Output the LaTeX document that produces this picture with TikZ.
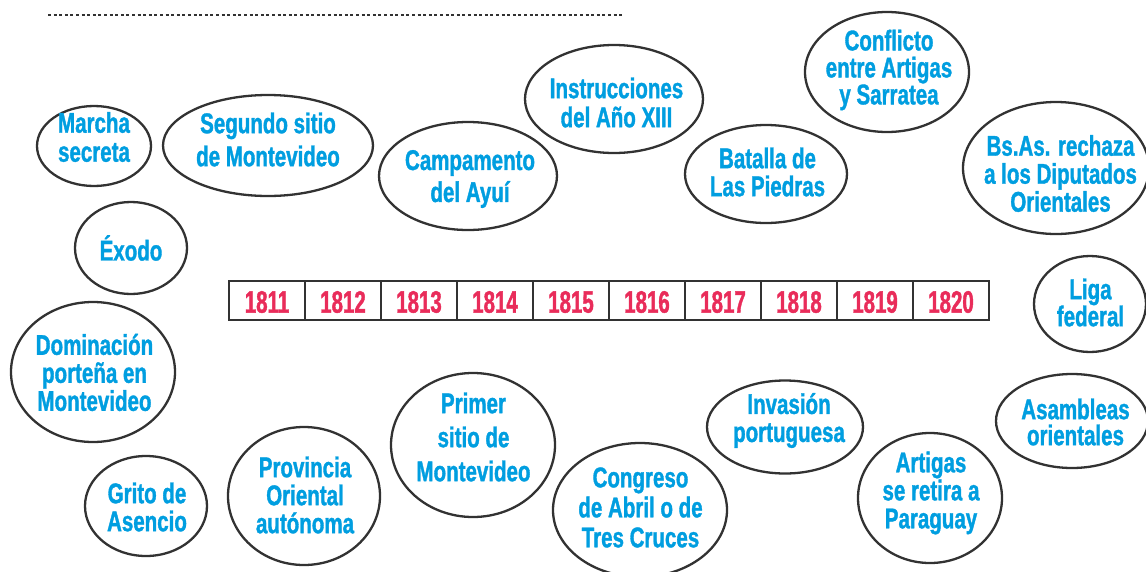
\documentclass[tikz,border=0pt]{standalone}
\usepackage{fontspec}
\usetikzlibrary{shapes.geometric}
\newfontfamily\cond{Liberation Sans}[FakeStretch=0.72,FakeBold=1.2]
\newfontfamily\condyr{Liberation Sans}[FakeStretch=0.66,FakeBold=1.2]
\definecolor{tblue}{RGB}{0,158,224}
\definecolor{tred}{RGB}{233,44,90}
\definecolor{outline}{RGB}{50,50,50}
\begin{document}
\begin{tikzpicture}[x=1pt,y=-1pt,
  ev/.style 2 args={ellipse,draw=outline,line width=2.3pt,minimum width=#1,minimum height=#2,inner sep=0pt},
  lbl/.style={text=tblue,align=center,inner sep=0pt,font=\cond\bfseries\fontsize{28.5}{28}\selectfont},
  lblw/.style={text=tblue,align=center,inner sep=0pt,font=\cond\bfseries\fontsize{28.5}{#1}\selectfont},
  yearcell/.style={draw=outline,line width=2pt,minimum width=76,minimum height=39,inner sep=0pt,outer sep=0pt},
  yeartext/.style={text=tred,inner sep=0pt,font=\condyr\bfseries\fontsize{31}{31}\selectfont},
  dashline/.style={draw=outline,line width=1.6pt,dash pattern=on 3pt off 2.6pt}]
\useasboundingbox (0,0) rectangle (1146,571);
\fill[white] (0,0) rectangle (1146,571);
% dashed rule
\coordinate (d1) at (48,15);
\coordinate (d2) at (622,15);
\draw[dashline] (d1) -- (d2);
% timeline
\foreach \y [count=\i from 0] in {1811,1812,1813,1814,1815,1816,1817,1818,1819,1820}{
  \node[yearcell] (y\y) at ({229+76*(\i+0.5)},300.5) {};
  \node[yeartext] (l\y) at ({229+76*(\i+0.5)},302) {\y};
}
% ellipses
\node[ev={114}{80}]  (e1)  at (94,146) {};
\node[ev={210}{101}] (e2)  at (268,145.5) {};
\node[ev={112}{92}]  (e3)  at (131,248) {};
\node[ev={164}{140}] (e4)  at (93,372) {};
\node[ev={122}{100}] (e5)  at (146,506) {};
\node[ev={152}{138}] (e6)  at (304,496) {};
\node[ev={164}{144}] (e7)  at (473,445) {};
\node[ev={174}{134}] (e8)  at (640,510) {};
\node[ev={156}{93}]  (e9)  at (785,427) {};
\node[ev={144}{130}] (e10) at (930,498) {};
\node[ev={152}{94}]  (e11) at (1072,421) {};
\node[ev={112}{96}]  (e12) at (1090,304) {};
\node[ev={186}{132}] (e13) at (1056,168) {};
\node[ev={164}{120}] (e14) at (887,72) {};
\node[ev={162}{98}]  (e15) at (766,174) {};
\node[ev={178}{108}] (e16) at (614,99) {};
\node[ev={178}{108}] (e17) at (468,176) {};
% labels
\node[lblw=29] (t1) at (94,137) {Marcha\\secreta};
\node[lblw=33] (t2) at (268,139.5) {Segundo sitio\\de Montevideo};
\node[lbl] (t3) at (131,248) {Éxodo};
\node[lbl] (t4) at (94.5,372.5) {Dominación\\porteña en\\Montevideo};
\node[lbl] (t5) at (147,507) {Grito de\\Asencio};
\node[lbl] (t6) at (305,495) {Provincia\\Oriental\\autónoma};
\node[lblw=34] (t7) at (473.5,437) {Primer\\sitio de\\Montevideo};
\node[lblw=30] (t8) at (640.5,507.5) {Congreso\\de Abril o de\\Tres Cruces};
\node[lbl] (t9) at (789,420.5) {Invasión\\portuguesa};
\node[lbl] (t10) at (931,493) {Artigas\\se retira a\\Paraguay};
\node[lblw=26] (t11) at (1075.5,422) {Asambleas\\orientales};
\node[lblw=27] (t12) at (1090.5,302.5) {Liga\\federal};
\node[lbl] (t13) at (1060.5,173.5) {Bs.As. rechaza\\a los Diputados\\Orientales};
\node[lblw=27] (t14) at (889,70) {Conflicto\\entre Artigas\\y Sarratea};
\node[lbl] (t15) at (767.5,172) {Batalla de\\Las Piedras};
\node[lblw=29] (t16) at (616.5,102.5) {Instrucciones\\del Año XIII};
\node[lblw=32] (t17) at (470,179) {Campamento\\del Ayuí};
\end{tikzpicture}
\end{document}
